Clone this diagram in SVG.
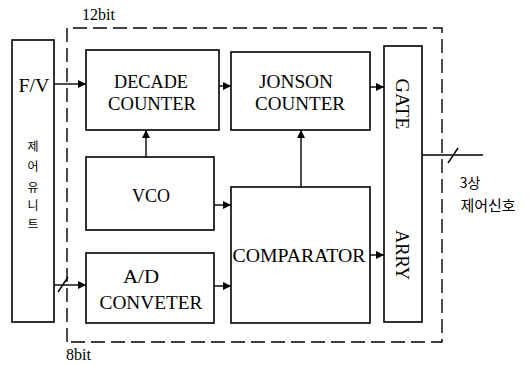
<svg xmlns="http://www.w3.org/2000/svg" width="530" height="365" viewBox="0 0 530 365">
<defs>
<style>
.box{fill:none;stroke:#000;stroke-width:1.6}
.ln{fill:none;stroke:#000;stroke-width:1.4}
.dash{fill:none;stroke:#000;stroke-width:1.4;stroke-dasharray:14 6}
text{font-family:"Liberation Serif","Times New Roman",serif;fill:#000}
.lbl{font-size:19px;text-anchor:middle}
.sm{font-size:16px}
.ko{font-family:"Noto Sans CJK KR","Liberation Serif",sans-serif;font-size:12px;text-anchor:middle;fill:#000}
</style>
<marker id="ah" viewBox="0 0 10 10" refX="10" refY="5" markerWidth="8" markerHeight="8" markerUnits="userSpaceOnUse" orient="auto">
<path d="M0,0 L10,5 L0,10 z" fill="#000"/>
</marker>
</defs>
<rect width="530" height="365" fill="#fff"/>
<g id="boundary">
<path class="dash" d="M67,342 V28 H442 V342 H67"/>
<text class="sm" x="82" y="20">12bit</text>
<text class="sm" x="66" y="360">8bit</text>
</g>
<g id="control-unit">
<rect class="box" x="12" y="40" width="42" height="282"/>
<text class="lbl" x="34" y="92" textLength="31" lengthAdjust="spacingAndGlyphs">F/V</text>
<text class="ko" x="33" y="151">제</text>
<text class="ko" x="33" y="171">어</text>
<text class="ko" x="33" y="192">유</text>
<text class="ko" x="33" y="210">니</text>
<text class="ko" x="33" y="229">트</text>
</g>
<g id="decade-counter">
<rect class="box" x="86" y="50" width="133" height="80"/>
<text class="lbl" x="151" y="88" textLength="74" lengthAdjust="spacingAndGlyphs">DECADE</text>
<text class="lbl" x="152" y="110" textLength="88" lengthAdjust="spacingAndGlyphs">COUNTER</text>
</g>
<g id="jonson-counter">
<rect class="box" x="231" y="52" width="139" height="78"/>
<text class="lbl" x="296" y="88" textLength="74" lengthAdjust="spacingAndGlyphs">JONSON</text>
<text class="lbl" x="300" y="110" textLength="90" lengthAdjust="spacingAndGlyphs">COUNTER</text>
</g>
<g id="vco">
<rect class="box" x="86" y="157" width="128" height="73"/>
<text class="lbl" x="151" y="202" textLength="38" lengthAdjust="spacingAndGlyphs">VCO</text>
</g>
<g id="ad-converter">
<rect class="box" x="86" y="253" width="128" height="70"/>
<text class="lbl" x="141" y="283" textLength="36" lengthAdjust="spacingAndGlyphs">A/D</text>
<text class="lbl" x="151" y="309" textLength="103" lengthAdjust="spacingAndGlyphs">CONVETER</text>
</g>
<g id="comparator">
<rect class="box" x="231" y="187" width="139" height="136"/>
<text class="lbl" x="299" y="262" textLength="133" lengthAdjust="spacingAndGlyphs">COMPARATOR</text>
</g>
<g id="gate-array">
<rect class="box" x="384" y="46" width="38" height="276"/>
<text class="lbl" transform="translate(396,104) rotate(90)" textLength="51" lengthAdjust="spacingAndGlyphs">GATE</text>
<text class="lbl" transform="translate(396,255) rotate(90)" textLength="50" lengthAdjust="spacingAndGlyphs">ARRY</text>
</g>
<g id="output-label">
<text class="ko" x="470" y="188" style="font-size:14px">3상</text>
<text class="ko" x="488" y="211" style="font-size:15px">제어신호</text>
</g>
<g id="connectors">
<line class="ln" x1="54" y1="84" x2="86" y2="84" marker-end="url(#ah)"/>
<line class="ln" x1="219" y1="86" x2="231" y2="86" marker-end="url(#ah)"/>
<line class="ln" x1="370" y1="87" x2="384" y2="87" marker-end="url(#ah)"/>
<line class="ln" x1="146" y1="157" x2="146" y2="130" marker-end="url(#ah)"/>
<line class="ln" x1="301" y1="187" x2="301" y2="130" marker-end="url(#ah)"/>
<line class="ln" x1="214" y1="205" x2="231" y2="205" marker-end="url(#ah)"/>
<line class="ln" x1="214" y1="286" x2="231" y2="286" marker-end="url(#ah)"/>
<line class="ln" x1="54" y1="285" x2="86" y2="285" marker-end="url(#ah)"/>
<line class="ln" x1="58" y1="292" x2="68" y2="277"/>
<line class="ln" x1="370" y1="255" x2="384" y2="255" marker-end="url(#ah)"/>
<line class="ln" x1="422" y1="155" x2="483" y2="155"/>
<line class="ln" x1="448" y1="163" x2="458" y2="148"/>
</g>
</svg>
